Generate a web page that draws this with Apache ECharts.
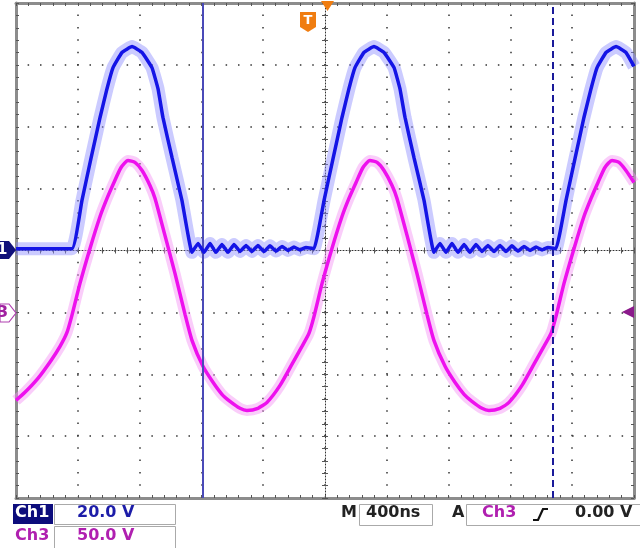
<!DOCTYPE html>
<html>
<head>
<meta charset="utf-8">
<script src="https://cdn.jsdelivr.net/npm/echarts@6/dist/echarts.min.js"></script>
<style>
html, body { margin: 0; padding: 0; background: #fff; }
#scope { width: 640px; height: 548px; }
</style>
</head>
<body>
<div id="scope"></div>
<script>
// time in ns, trigger at 0 (screen = -2000 .. 2000 ns, 400 ns/div)
const ch1Time = [-2000, -1638, -1573, -1515, -1456, -1411, -1372, -1314, -1249, -1184, -1120, -1081, -1049, -990, -926, -861,
  -822, -783, -744, -706, -667, -628, -589, -550, -511, -473, -434, -395, -356, -317, -278, -240, -201, -162, -123, -71,
  -6, 52, 110, 155, 194, 252, 317, 382, 447, 485, 518, 576, 641, 705,
  744, 783, 822, 861, 900, 938, 977, 1016, 1055, 1094, 1133, 1171, 1210, 1249, 1288, 1327, 1366, 1405, 1443, 1495,
  1560, 1618, 1676, 1722, 1761, 1819, 1884, 1948, 2000];
// Ch1 volts (20 V/div)
const ch1Volts = [0.6, 0.6, 16.2, 29.7, 43.0, 52.3, 59.1, 64.0, 65.9, 64.0, 59.1, 52.3, 43.0, 30.0, 16.2, -0.6,
  2.3, -0.6, 2.3, -0.6, 1.9, -0.6, 1.9, -0.3, 1.6, -0.3, 1.6, -0.3, 1.5, -0.2, 1.3, 0, 1.1, 0.2, 1.0, 0.6,
  16.2, 29.7, 43.0, 52.3, 59.1, 64.0, 65.9, 64.0, 59.1, 52.3, 43.0, 30.0, 16.2, -0.6,
  2.3, -0.6, 2.3, -0.6, 1.9, -0.6, 1.9, -0.3, 1.6, -0.3, 1.6, -0.3, 1.5, -0.2, 1.3, 0, 1.1, 0.2, 1.0, 0.6,
  16.2, 29.7, 43.0, 52.3, 59.1, 64.0, 65.9, 64.0, 59.5];

const ch3Time = [-2000, -1942, -1858, -1773, -1715, -1670, -1638, -1586, -1521, -1456, -1411, -1366, -1320, -1275, -1230, -1184,
  -1133, -1100, -1036, -971, -906, -861, -790, -725, -667, -615, -550, -505, -434, -375, -291, -207, -149, -104, -71,
  -19, 45, 110, 155, 201, 246, 291, 337, 382, 434, 466, 531, 595, 660, 705, 777, 841, 900, 951, 1016, 1061,
  1133, 1191, 1275, 1359, 1417, 1463, 1495, 1547, 1612, 1676, 1722, 1767, 1812, 1858, 1903, 1948, 2000];
// Ch3 volts (50 V/div)
const ch3Volts = [-71.1, -64.6, -53.3, -38.8, -27.5, -16.2, -2.4, 23.4, 51.7, 77.5, 92.1, 105.0, 117.1, 122.8, 121.2, 114.7,
  102.6, 92.1, 62.2, 31.5, -1.6, -22.6, -43.6, -56.5, -66.2, -71.9, -77.5, -79.2, -77.5, -72.7, -59.0, -40.4, -27.5, -17.0, -3.2,
  23.4, 51.7, 77.5, 92.1, 105.0, 117.1, 122.8, 121.2, 114.7, 102.6, 92.1, 62.2, 31.5, -1.6, -22.6, -43.6, -56.5, -66.2, -71.9, -77.5, -79.2,
  -77.5, -72.7, -59.0, -40.4, -27.5, -17.0, -3.2, 23.4, 51.7, 77.5, 92.1, 105.0, 117.1, 122.8, 121.2, 114.7, 105.0];

const ch1Scale = 20;   // V/div
const ch3Scale = 50;   // V/div
const ch3Offset = -1;  // div
const cursorTimes = [-793, 1476];

const chart = echarts.init(document.getElementById('scope'));

const ch1Data = ch1Time.map((t, i) => [t, ch1Volts[i] / ch1Scale]);
const ch3Data = ch3Time.map((t, i) => [t, ch3Volts[i] / ch3Scale + ch3Offset]);

const tickStyle = { color: '#555', width: 1 };

function xFrame(position, onZero, inside, extra) {
  return Object.assign({
    type: 'value', min: -2000, max: 2000, interval: 400, position: position,
    axisLine: { show: !onZero, onZero: onZero, lineStyle: { color: '#8c8c8c', width: 3 } },
    axisTick: { show: true, inside: inside, length: 3, lineStyle: tickStyle },
    minorTick: { show: true, splitNumber: 5, length: 3, lineStyle: tickStyle },
    axisLabel: { show: false },
    splitLine: { show: false }
  }, extra || {});
}
function yFrame(position, onZero, inside, extra) {
  return Object.assign({
    type: 'value', min: -4, max: 4, interval: 1, position: position,
    axisLine: { show: !onZero, onZero: onZero, lineStyle: { color: '#8c8c8c', width: 3 } },
    axisTick: { show: true, inside: inside, length: 3, lineStyle: tickStyle },
    minorTick: { show: true, splitNumber: 5, length: 3, lineStyle: tickStyle },
    axisLabel: { show: false },
    splitLine: { show: false }
  }, extra || {});
}

const centerLine = { show: true, onZero: true, lineStyle: { color: '#333', width: 1, type: [1, 2] } };

chart.setOption({
  animation: false,
  backgroundColor: '#fff',
  grid: { left: 16, top: 3, width: 618, height: 495 },
  xAxis: [
    xFrame('bottom', false, true, {
      splitLine: { show: true, lineStyle: { color: '#333', width: 1.5, type: [1.5, 10.86], dashOffset: 0.75 } }
    }),
    xFrame('top', false, true),
    xFrame('bottom', true, true, { axisLine: centerLine }),
    xFrame('bottom', true, false)
  ],
  yAxis: [
    yFrame('left', false, true, {
      splitLine: { show: true, lineStyle: { color: '#333', width: 1.5, type: [1.5, 10.875], dashOffset: 0.75 } }
    }),
    yFrame('right', false, true),
    yFrame('left', true, true, { axisLine: centerLine }),
    yFrame('left', true, false)
  ],
  series: [
    {
      type: 'line', data: ch3Data, symbol: 'none', smooth: 0.2, z: 2,
      lineStyle: { color: '#f590f5', width: 11, opacity: 0.45 }
    },
    {
      type: 'line', data: ch3Data, symbol: 'none', smooth: 0.2, z: 3,
      lineStyle: { color: '#ee10ee', width: 3.5 }
    },
    {
      type: 'line', data: ch1Data, symbol: 'none', smooth: 0.1, z: 4,
      lineStyle: { color: '#8c8cff', width: 13, opacity: 0.45 }
    },
    {
      type: 'line', data: ch1Data, symbol: 'none', smooth: 0.1, z: 5,
      lineStyle: { color: '#1414e6', width: 3.5 },
      markLine: {
        symbol: 'none', silent: true, animation: false,
        label: { show: false },
        data: [
          { xAxis: cursorTimes[0], lineStyle: { color: '#4a4ab8', width: 2, type: 'solid' } },
          { xAxis: cursorTimes[1], lineStyle: { color: '#1a1a9a', width: 2, type: [7, 4] } }
        ]
      }
    }
  ],
  graphic: [
    // channel ground markers
    { type: 'polygon', shape: { points: [[0, 241], [9, 241], [16, 250], [9, 259], [0, 259]] }, style: { fill: '#10107a' }, z: 20 },
    { type: 'text', style: { text: '1', x: -3, y: 243, fill: '#fff', font: 'bold 15px "DejaVu Sans"' }, z: 21 },
    { type: 'polygon', shape: { points: [[0, 304], [9, 304], [16, 313], [9, 322], [0, 322]] }, style: { fill: '#fff', stroke: '#b040b0', lineWidth: 1.2 }, z: 20 },
    { type: 'text', style: { text: '3', x: -3, y: 305, fill: '#a020a0', font: 'bold 16px "DejaVu Sans"' }, z: 21 },
    // trigger markers
    { type: 'polygon', shape: { points: [[321, 1], [334, 1], [327.5, 11]] }, style: { fill: '#f07d10' }, z: 20 },
    { type: 'polygon', shape: { points: [[300, 12], [316, 12], [316, 27], [308, 32], [300, 27]] }, style: { fill: '#f07d10' }, z: 20 },
    { type: 'text', style: { text: 'T', x: 308, y: 14, align: 'center', fill: '#fff', font: 'bold 13px "DejaVu Sans"' }, z: 21 },
    { type: 'polygon', shape: { points: [[622, 312], [634, 306], [634, 318]] }, style: { fill: '#8b1a8b' }, z: 20 },
    // status bar
    { type: 'rect', shape: { x: 13, y: 504, width: 40, height: 20 }, style: { fill: '#0c0c7c' } },
    { type: 'text', style: { text: 'Ch1', x: 15, y: 505, fill: '#fff', font: 'bold 16px "DejaVu Sans"' } },
    { type: 'rect', shape: { x: 54.5, y: 504.5, width: 121, height: 20 }, style: { fill: 'none', stroke: '#aaa', lineWidth: 1 } },
    { type: 'text', style: { text: '20.0 V', x: 77, y: 505, fill: '#1c1ca8', font: 'bold 16px "DejaVu Sans"' } },
    { type: 'text', style: { text: 'Ch3', x: 15, y: 528, fill: '#b020b0', font: 'bold 16px "DejaVu Sans"' } },
    { type: 'rect', shape: { x: 54.5, y: 526.5, width: 121, height: 24 }, style: { fill: 'none', stroke: '#aaa', lineWidth: 1 } },
    { type: 'text', style: { text: '50.0 V', x: 77, y: 528, fill: '#b020b0', font: 'bold 16px "DejaVu Sans"' } },
    { type: 'text', style: { text: 'M', x: 341, y: 505, fill: '#222', font: 'bold 16px "DejaVu Sans"' } },
    { type: 'rect', shape: { x: 359.5, y: 504.5, width: 73, height: 21 }, style: { fill: 'none', stroke: '#aaa', lineWidth: 1 } },
    { type: 'text', style: { text: '400ns', x: 366, y: 505, fill: '#222', font: 'bold 16px "DejaVu Sans"' } },
    { type: 'text', style: { text: 'A', x: 452, y: 505, fill: '#222', font: 'bold 16px "DejaVu Sans"' } },
    { type: 'rect', shape: { x: 466.5, y: 504.5, width: 180, height: 21 }, style: { fill: 'none', stroke: '#aaa', lineWidth: 1 } },
    { type: 'text', style: { text: 'Ch3', x: 482, y: 505, fill: '#b020b0', font: 'bold 16px "DejaVu Sans"' } },
    { type: 'polyline', shape: { points: [[533, 520], [538, 520], [543, 509], [548, 509]] }, style: { stroke: '#111', lineWidth: 2.2, fill: 'none' } },
    { type: 'text', style: { text: '0.00 V', x: 575, y: 505, fill: '#222', font: 'bold 16px "DejaVu Sans"' } }
  ]
});
</script>
</body>
</html>
